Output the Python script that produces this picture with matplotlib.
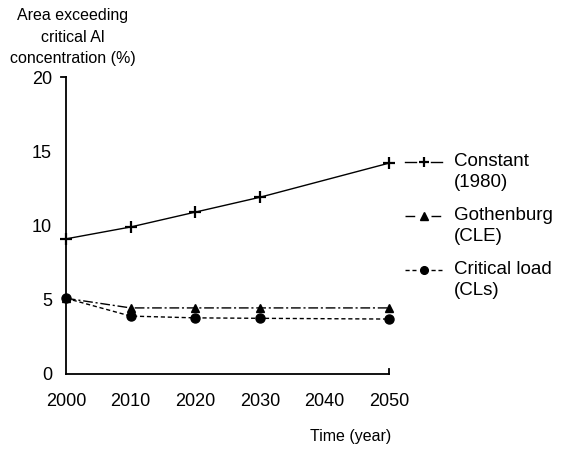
import matplotlib
matplotlib.use("Agg")
import matplotlib.pyplot as plt
from matplotlib.lines import Line2D

plt.rcParams['font.family'] = ['Liberation Sans', 'DejaVu Sans']

years = [2000, 2010, 2020, 2030, 2050]
constant = [9.1, 9.9, 10.9, 11.9, 14.2]
gothenburg = [5.1, 4.45, 4.45, 4.45, 4.45]
critical = [5.1, 3.9, 3.78, 3.75, 3.7]
labels = ["Constant\n(1980)", "Gothenburg\n(CLE)", "Critical load\n(CLs)"]

W, H = 564, 450
fig = plt.figure(figsize=(W / 100, H / 100), dpi=100)
ax = fig.add_axes([66 / W, 76 / H, 323 / W, 297 / H])

styles = [
    dict(ls='-', marker='+', ms=8, mew=1.6),
    dict(ls=(0, (7, 2, 1.5, 2)), marker='^', ms=6, mew=1),
    dict(ls=(0, (3, 2)), marker='o', ms=6.5, mew=1),
]
series = [constant, gothenburg, critical]
for vals, st in zip(series, styles):
    ax.plot(years, vals, color='black', lw=1, clip_on=False, **st)

ax.set_xlim(2000, 2050)
ax.set_ylim(0, 20)
ax.set_xticks([2000, 2010, 2020, 2030, 2040, 2050])
ax.set_yticks([0, 5, 10, 15, 20])
ax.tick_params(axis='y', length=0, labelsize=13, pad=10)
ax.tick_params(axis='x', length=0, labelsize=13, pad=14)
ax.spines['top'].set_visible(False)
ax.spines['right'].set_visible(False)
for s in ['left', 'bottom']:
    ax.spines[s].set_linewidth(1.3)

# small end caps on the axes
ax.plot([-0.015, 0], [1, 1], transform=ax.transAxes, color='black', lw=1.3, clip_on=False)
ax.plot([1, 1], [0, 0.016], transform=ax.transAxes, color='black', lw=1.3, clip_on=False)

fig.text(73 / W, 1 - 8 / H, "Area exceeding\ncritical Al\nconcentration (%)", ha='center', va='top',
         fontsize=11.5, linespacing=1.55)
fig.text(351 / W, 1 - 437 / H, "Time (year)", ha='center', va='center', fontsize=11.5)

# legend, drawn by hand so the key sits on the first line of each label
legend_y = [162, 216, 270]
for y, st, lab in zip(legend_y, styles, labels):
    yf = 1 - y / H
    seg_ls = st['ls']
    fig.add_artist(Line2D([405 / W, 416 / W], [yf, yf], color='black', lw=1, ls=seg_ls))
    fig.add_artist(Line2D([431 / W, 442 / W], [yf, yf], color='black', lw=1, ls=seg_ls))
    fig.add_artist(Line2D([423.5 / W], [yf], color='black', ls='none', marker=st['marker'],
                          ms=st['ms'] * 0.85, mew=st['mew']))
    fig.text(454 / W, yf + 9 / H, lab, ha='left', va='top', fontsize=13.5, linespacing=1.3)

fig.savefig("out.png", dpi=100)
